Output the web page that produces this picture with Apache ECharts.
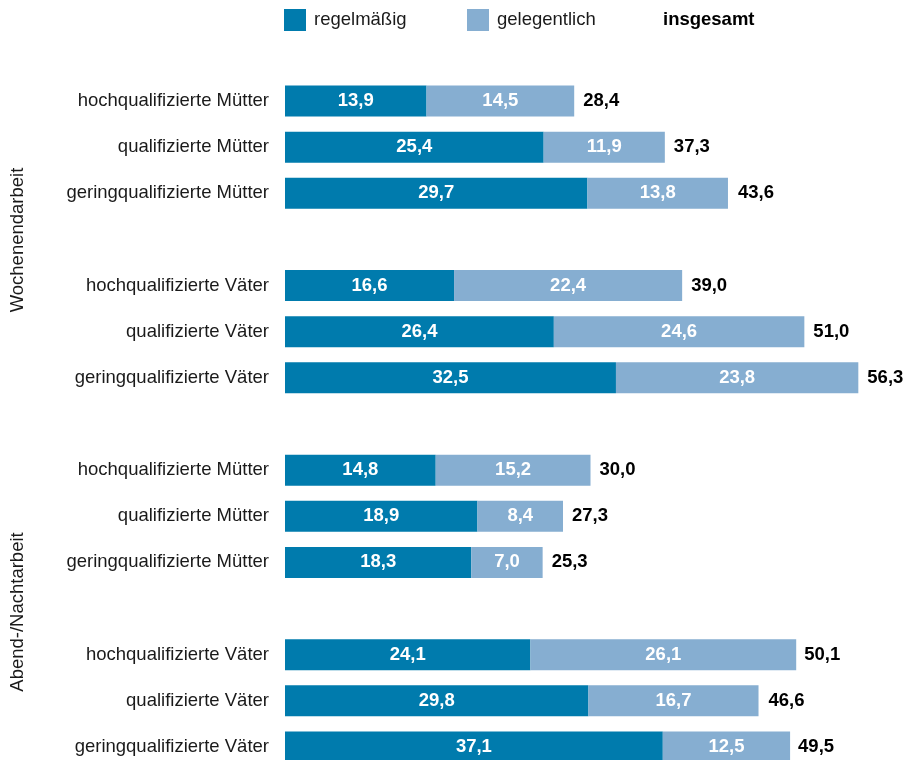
<!DOCTYPE html>
<html>
<head>
<meta charset="utf-8">
<title>Wochenend- und Abend-/Nachtarbeit</title>
<script src="https://cdn.jsdelivr.net/npm/echarts@6/dist/echarts.min.js"></script>
<style>
html, body { margin: 0; padding: 0; background: #fff; }
#chart { width: 909px; height: 760px; }
</style>
</head>
<body>
<div id="chart"></div>
<script>
// Kategorien (leere Einträge = Abstand zwischen den Gruppen)
var categories = [
    'hochqualifizierte Mütter', 'qualifizierte Mütter', 'geringqualifizierte Mütter', '',
    'hochqualifizierte Väter', 'qualifizierte Väter', 'geringqualifizierte Väter', '',
    'hochqualifizierte Mütter', 'qualifizierte Mütter', 'geringqualifizierte Mütter', '',
    'hochqualifizierte Väter', 'qualifizierte Väter', 'geringqualifizierte Väter'
];
var regelmaessig = [13.9, 25.4, 29.7, '-', 16.6, 26.4, 32.5, '-', 14.8, 18.9, 18.3, '-', 24.1, 29.8, 37.1];
var gelegentlich = [14.5, 11.9, 13.8, '-', 22.4, 24.6, 23.8, '-', 15.2, 8.4, 7.0, '-', 26.1, 16.7, 12.5];
var insgesamt    = [28.4, 37.3, 43.6, '-', 39.0, 51.0, 56.3, '-', 30.0, 27.3, 25.3, '-', 50.1, 46.6, 49.5];
var groupNames = ['Wochenendarbeit', 'Abend-/Nachtarbeit'];

var FONT = 'Liberation Sans, Arial, sans-serif';

function fmt(p) {
    return p.value.toFixed(1).replace('.', ',');
}

var chart = echarts.init(document.getElementById('chart'));

var option = {
    animation: false,
    textStyle: { fontFamily: FONT },
    legend: [
        {
            data: ['regelmäßig'],
            left: 284, top: 9,
            padding: 0,
            itemWidth: 22, itemHeight: 22,
            icon: 'rect',
            textStyle: { fontSize: 18.5, color: '#1a1a1a', fontFamily: FONT, padding: [0, 0, 0, 3] },
            selectedMode: false
        },
        {
            data: ['gelegentlich'],
            left: 467, top: 9,
            padding: 0,
            itemWidth: 22, itemHeight: 22,
            icon: 'rect',
            textStyle: { fontSize: 18.5, color: '#1a1a1a', fontFamily: FONT, padding: [0, 0, 0, 3] },
            selectedMode: false
        },
        {
            data: ['insgesamt'],
            left: 658, top: 9,
            padding: 0,
            itemWidth: 0, itemHeight: 22,
            icon: 'rect',
            textStyle: { fontSize: 18.5, color: '#000', fontWeight: 'bold', fontFamily: FONT },
            selectedMode: false
        }
    ],
    grid: {
        left: 285,
        width: 611,
        top: 78,
        height: 692,
        outerBoundsMode: 'none',
        containLabel: false
    },
    xAxis: {
        type: 'value',
        min: 0,
        max: 60,
        show: false
    },
    yAxis: {
        type: 'category',
        inverse: true,
        data: categories,
        axisLine: { show: false },
        axisTick: { show: false },
        axisLabel: {
            margin: 16,
            fontSize: 18.5,
            color: '#1a1a1a',
            fontFamily: FONT
        }
    },
    series: [
        {
            name: 'regelmäßig',
            type: 'bar',
            stack: 'a',
            barWidth: 31,
            barGap: '-100%',
            itemStyle: { color: '#007bad' },
            label: {
                show: true,
                position: 'inside',
                color: '#fff',
                fontWeight: 'bold',
                fontSize: 18.5,
                fontFamily: FONT,
                formatter: fmt
            },
            data: regelmaessig
        },
        {
            name: 'gelegentlich',
            type: 'bar',
            stack: 'a',
            barWidth: 31,
            barGap: '-100%',
            itemStyle: { color: '#86aed1' },
            label: {
                show: true,
                position: 'inside',
                color: '#fff',
                fontWeight: 'bold',
                fontSize: 18.5,
                fontFamily: FONT,
                formatter: fmt
            },
            data: gelegentlich
        },
        {
            name: 'insgesamt',
            type: 'bar',
            barWidth: 31,
            barGap: '-100%',
            z: 1,
            itemStyle: { color: 'rgba(0,0,0,0)' },
            label: {
                show: true,
                position: 'right',
                distance: 9,
                color: '#000',
                fontWeight: 'bold',
                fontSize: 18.5,
                fontFamily: FONT,
                formatter: fmt
            },
            data: insgesamt
        }
    ],
    graphic: [
        {
            type: 'text',
            x: 18, y: 240,
            rotation: Math.PI / 2,
            style: {
                text: groupNames[0],
                fontSize: 18.5,
                fontFamily: FONT,
                fill: '#1a1a1a',
                align: 'center',
                verticalAlign: 'middle'
            }
        },
        {
            type: 'text',
            x: 18, y: 612,
            rotation: Math.PI / 2,
            style: {
                text: groupNames[1],
                fontSize: 18.5,
                fontFamily: FONT,
                fill: '#1a1a1a',
                align: 'center',
                verticalAlign: 'middle'
            }
        }
    ]
};

chart.setOption(option);
</script>
</body>
</html>
